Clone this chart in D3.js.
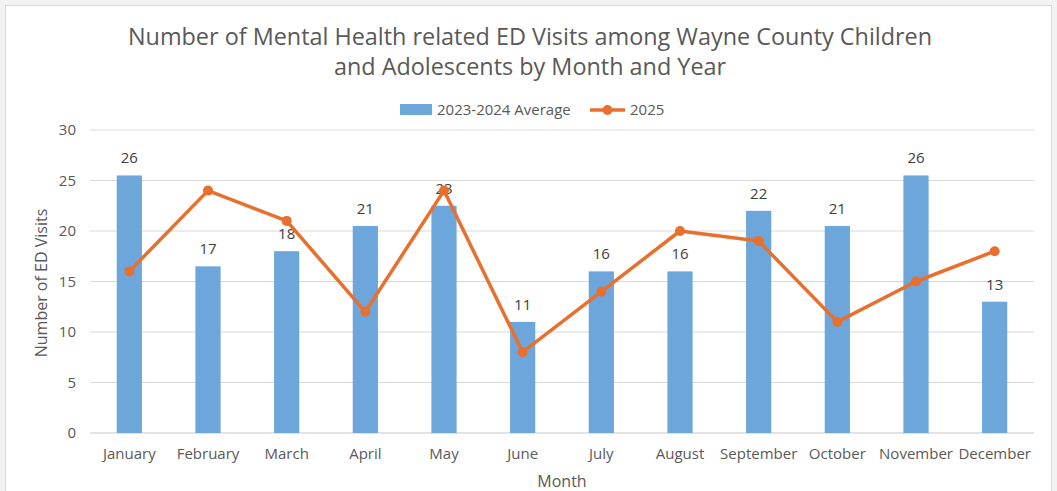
<!DOCTYPE html>
<html><head><meta charset="utf-8">
<script src="https://cdn.jsdelivr.net/npm/d3@7"></script>
<style>body{margin:0;background:#fff;} svg{display:block;}</style>
</head><body>
<svg id="c" width="1057" height="491"></svg>
<script>
const months = ["January","February","March","April","May","June","July","August","September","October","November","December"];
const avg2023_2024 = [25.5,16.5,18,20.5,22.5,11,16,16,22,20.5,25.5,13];
const avgLabels = ["26","17","18","21","23","11","16","16","22","21","26","13"];
const y2025 = [16,24,21,12,24,8,14,20,19,11,15,18];
const yTicks = [0,5,10,15,20,25,30];
const seriesNames = ["2023-2024 Average","2025"];
const titleLines = ["Number of Mental Health related ED Visits among Wayne County Children","and Adolescents by Month and Year"];

const svg = d3.select("#c");
const W=1057,H=491;
const font = "'Open Sans', sans-serif";
const gray = "#595959";
const blue = "#6CA6DB", orange = "#E8702E";

// background frame
svg.append("rect").attr("x",0).attr("y",0).attr("width",W).attr("height",H).attr("fill","#f2f2f2");
svg.append("rect").attr("x",5.5).attr("y",5.5).attr("width",1046).attr("height",490).attr("fill","#fff").attr("stroke","#d9d9d9");

const m = {l:90,r:1034,t:130,b:433};
const x = d3.scaleBand().domain(months).range([m.l,m.r]).paddingInner(0.68).paddingOuter(0.34);
const y = d3.scaleLinear().domain([0,30]).range([m.b,m.t]);

// gridlines
svg.append("g").selectAll("line").data(yTicks).join("line")
  .attr("x1",m.l).attr("x2",m.r).attr("y1",d=>y(d)).attr("y2",d=>y(d))
  .attr("stroke",d=>d===0?"#c8c8c8":"#d9d9d9").attr("stroke-width",1);

// y axis
const ya = svg.append("g").attr("transform",`translate(${m.l},0)`).call(d3.axisLeft(y).tickValues(yTicks).tickSize(0).tickPadding(14));
ya.select(".domain").remove();
ya.selectAll("text").attr("font-family",font).attr("font-size",15).attr("fill",gray);

// x axis
const xa = svg.append("g").attr("transform",`translate(0,${m.b})`).call(d3.axisBottom(x).tickSize(0).tickPadding(15));
xa.select(".domain").remove();
xa.selectAll("text").attr("font-family",font).attr("font-size",15).attr("fill",gray);

// bars
svg.append("g").selectAll("rect").data(avg2023_2024).join("rect")
  .attr("x",(d,i)=>x(months[i])).attr("width",x.bandwidth())
  .attr("y",d=>y(d)).attr("height",d=>y(0)-y(d)).attr("fill",blue);

// bar labels
svg.append("g").selectAll("text").data(avg2023_2024).join("text")
  .attr("x",(d,i)=>x(months[i])+x.bandwidth()/2).attr("y",d=>y(d)-12)
  .attr("text-anchor","middle").attr("font-family",font).attr("font-size",15).attr("fill","#404040")
  .text((d,i)=>avgLabels[i]);

// line
const cx = i=>x(months[i])+x.bandwidth()/2;
svg.append("path").datum(y2025)
  .attr("d",d3.line().x((d,i)=>cx(i)).y(d=>y(d)))
  .attr("fill","none").attr("stroke",orange).attr("stroke-width",3.5).attr("stroke-linejoin","round");
svg.append("g").selectAll("circle").data(y2025).join("circle")
  .attr("cx",(d,i)=>cx(i)).attr("cy",d=>y(d)).attr("r",5).attr("fill",orange);

// title
svg.append("g").selectAll("text").data(titleLines).join("text")
  .attr("x",530).attr("y",(d,i)=>45+i*30).attr("text-anchor","middle")
  .attr("font-family",font).attr("font-size",23.4).attr("fill",gray)
  .text(d=>d);

// legend
const lg = svg.append("g").attr("font-family",font).attr("font-size",15).attr("fill",gray);
lg.append("rect").attr("x",400).attr("y",104).attr("width",32).attr("height",11).attr("fill",blue);
lg.append("text").attr("x",437).attr("y",115).attr("fill",gray).text(seriesNames[0]);
lg.append("line").attr("x1",590).attr("x2",625).attr("y1",110).attr("y2",110).attr("stroke",orange).attr("stroke-width",3.5);
lg.append("circle").attr("cx",607.5).attr("cy",110).attr("r",5).attr("fill",orange);
lg.append("text").attr("x",630).attr("y",115).attr("fill",gray).text(seriesNames[1]);

// axis titles
svg.append("text").attr("x",562).attr("y",487).attr("text-anchor","middle")
  .attr("font-family",font).attr("font-size",16).attr("fill",gray).text("Month");
svg.append("text").attr("transform","translate(47,283) rotate(-90)").attr("text-anchor","middle")
  .attr("font-family",font).attr("font-size",16).attr("fill",gray).text("Number of ED Visits");
</script>
</body></html>
